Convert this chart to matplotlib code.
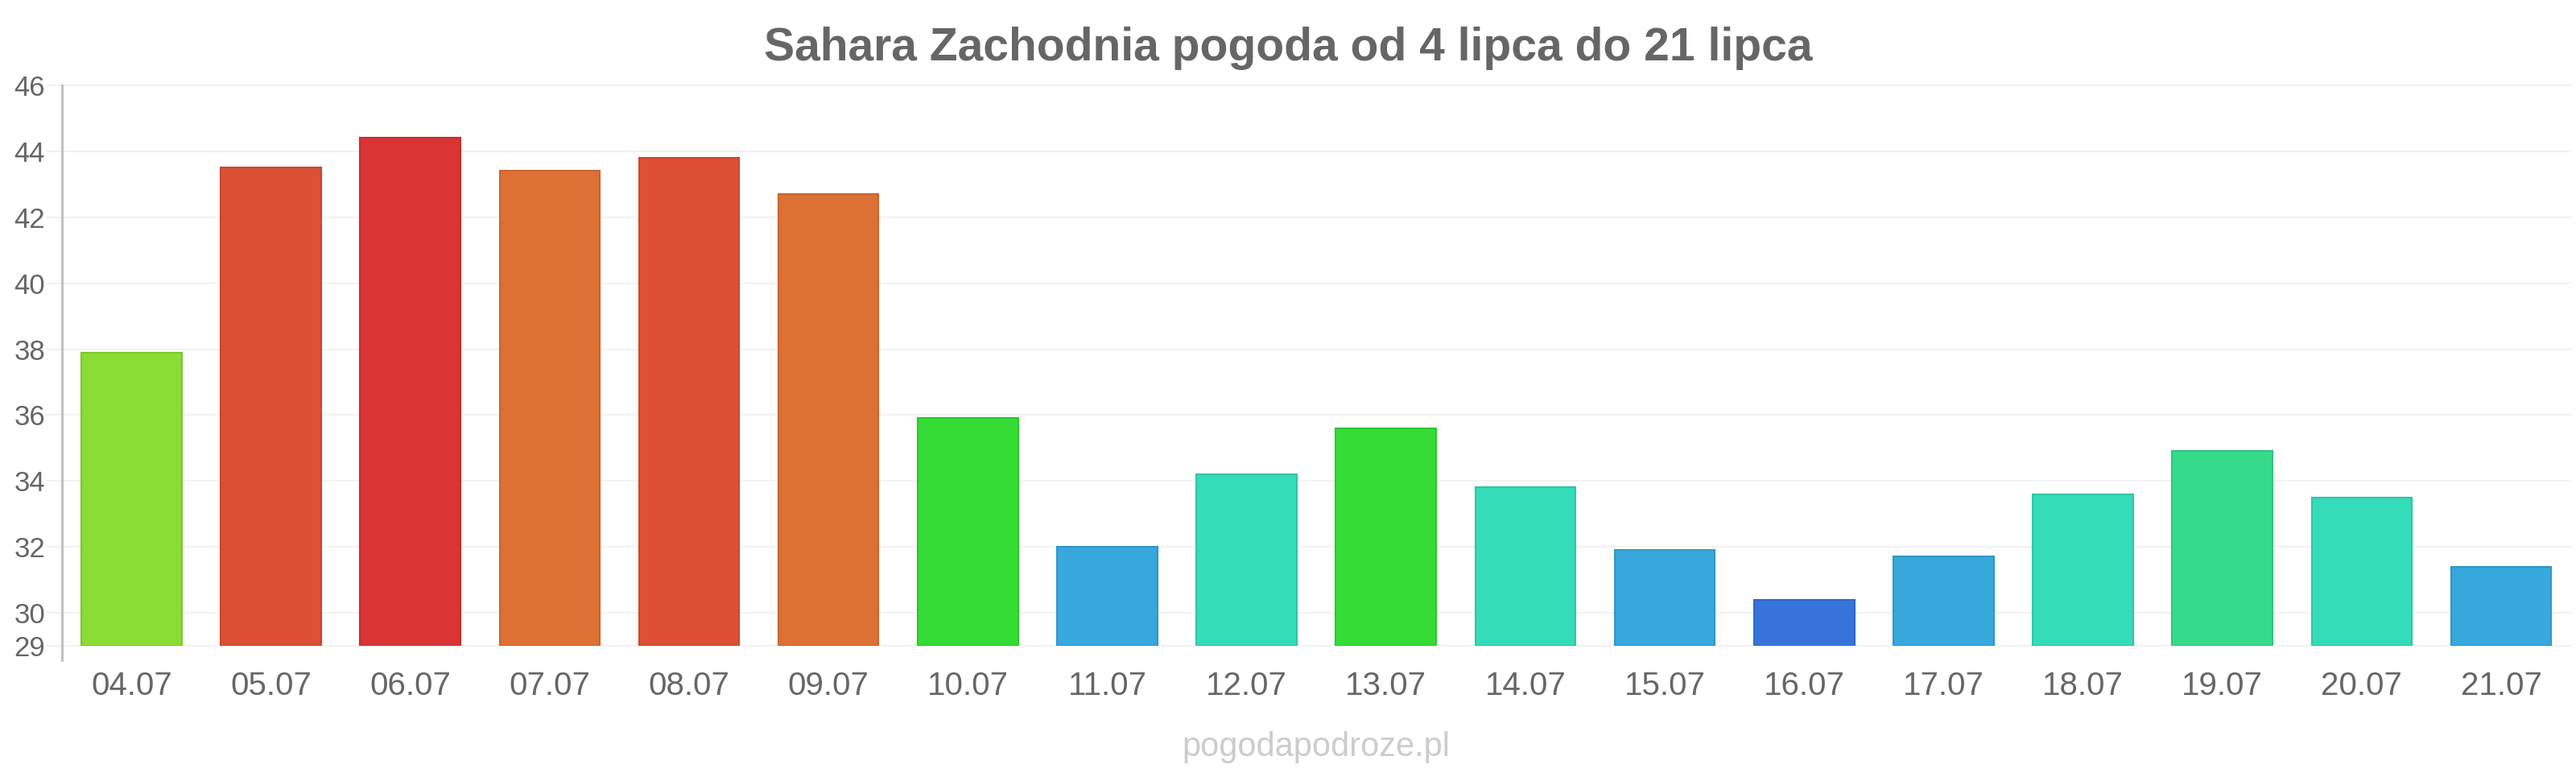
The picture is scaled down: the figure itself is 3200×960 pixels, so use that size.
import matplotlib
matplotlib.use('Agg')
import matplotlib.pyplot as plt

# data
days = ['04.07', '05.07', '06.07', '07.07', '08.07', '09.07', '10.07', '11.07', '12.07',
        '13.07', '14.07', '15.07', '16.07', '17.07', '18.07', '19.07', '20.07', '21.07']
temps = [37.9, 43.5, 44.4, 43.4, 43.8, 42.7, 35.9, 32.0, 34.2,
         35.6, 33.8, 31.9, 30.4, 31.7, 33.6, 34.9, 33.5, 31.4]
colors = ['#8bdc35', '#dd5035', '#db3434', '#dd7035', '#dd5035', '#dd7035', '#35dc35', '#36a8db', '#35dcb8',
          '#35dc35', '#35dcb8', '#36a8db', '#3674db', '#36a8db', '#35dcb8', '#35db89', '#35dcb8', '#36a8db']
edges = ['#7cc62f', '#c8482f', '#c52f2f', '#c8652f', '#c8482f', '#c8652f', '#2fc62f', '#3097c5', '#2fc6a5',
         '#2fc62f', '#2fc6a5', '#3097c5', '#3068c5', '#3097c5', '#2fc6a5', '#2fc57b', '#2fc6a5', '#3097c5']
yticks = [29, 30, 32, 34, 36, 38, 40, 42, 44, 46]
base = 29

plt.rcParams['font.family'] = ['Liberation Sans', 'DejaVu Sans']

fig = plt.figure(figsize=(32, 9.6), dpi=100)
ax = fig.add_axes([0.024, 0.1646, 0.974, 0.725])

x = range(len(days))
ax.bar(x, [t - base for t in temps], bottom=base, width=0.72,
       color=colors, edgecolor=edges, linewidth=1.5, zorder=3)

ax.set_xlim(-0.5, len(days) - 0.5)
ax.set_ylim(29, 46)
ax.set_yticks(yticks)
ax.set_xticks(list(x))
ax.set_xticklabels(days)

# grid lines reach a little left of the axis line
ax.hlines(yticks, -0.0065, 1, transform=ax.get_yaxis_transform(),
          color='#f2f2f2', linewidth=1.5, zorder=0, clip_on=False)

for s in ['top', 'right', 'bottom']:
    ax.spines[s].set_visible(False)
ax.spines['left'].set_color('#bbbbbb')
ax.spines['left'].set_linewidth(2)
ax.spines['left'].set_bounds(28.55, 46)

ax.tick_params(axis='y', length=0, labelsize=25, labelcolor='#666666', pad=15)
ax.tick_params(axis='x', length=0, labelsize=29, labelcolor='#666666', pad=22)

fig.text(0.5, 0.9219, 'Sahara Zachodnia pogoda od 4 lipca do 21 lipca',
         ha='center', va='baseline', fontsize=41, fontweight='bold', color='#666666')
fig.text(0.511, 0.033, 'pogodapodroze.pl', ha='center', va='center',
         fontsize=30, color='#cccccc')

fig.savefig('out.png', dpi=100)
